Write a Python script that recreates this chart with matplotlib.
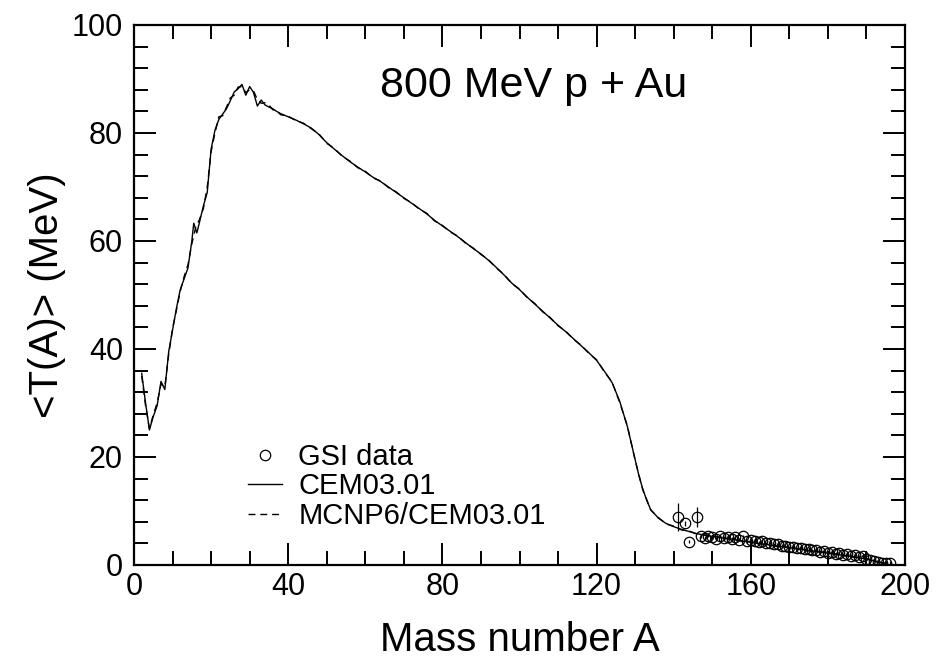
import matplotlib
matplotlib.use("Agg")
import matplotlib.pyplot as plt
from matplotlib.ticker import MultipleLocator
from matplotlib.lines import Line2D

plt.rcParams['font.family'] = ['Liberation Sans', 'DejaVu Sans']

# CEM03.01 calculation
cem_A = [2, 3, 4, 5, 6, 7, 8, 9, 10, 11, 12, 13, 14, 15, 15.5, 16.3, 17, 18, 19, 20,
         21, 22, 23, 24, 25, 26, 27, 28, 29, 30, 31, 32, 33, 34, 35, 36, 37, 38, 40,
         42, 44, 46, 48, 50, 52, 54, 56, 58, 60, 62, 64, 66, 68, 70, 72, 74, 76, 78,
         80, 82, 84, 86, 88, 90, 92, 94, 96, 98, 100, 102, 104, 106, 108, 110, 112,
         114, 116, 118, 120, 122, 124, 126, 128, 130, 131, 132, 133, 134, 136, 138,
         140, 142, 144, 146, 150, 155, 160, 165, 170, 175, 180, 185, 190, 193, 195]
cem_T = [35.5, 30.0, 25.0, 27.5, 29.5, 34.0, 32.5, 39.5, 43.5, 47.5, 51.0, 53.0, 55.0,
         60.0, 63.3, 61.5, 63.5, 66.5, 69.0, 77.0, 80.5, 82.5, 83.5, 84.5, 86.0, 87.6,
         88.2, 89.0, 87.0, 88.6, 87.5, 85.0, 86.1, 85.2, 84.8, 84.5, 84.0, 83.6, 83.0,
         82.4, 81.7, 80.9, 79.7, 78.2, 77.0, 75.8, 74.7, 73.7, 72.8, 71.8, 71.0, 70.0,
         69.0, 68.0, 67.0, 66.0, 65.0, 63.8, 62.8, 61.8, 60.8, 59.7, 58.6, 57.6, 56.4,
         55.1, 53.7, 52.2, 51.0, 49.6, 48.3, 47.0, 45.7, 44.4, 43.2, 41.9, 40.6, 39.3,
         37.9, 35.9, 33.8, 30.3, 25.6, 19.5, 16.5, 14.0, 12.0, 10.3, 8.7, 7.7, 7.1, 6.6,
         6.2, 5.8, 5.3, 4.8, 4.2, 3.7, 3.2, 2.7, 2.2, 1.7, 1.1, 0.6, 0.3]

# MCNP6/CEM03.01 calculation
mcnp_A = [2, 3, 4, 5, 6, 7, 8, 9, 10, 11, 12, 13, 14, 15, 16, 17, 18, 19, 20,
          21, 22, 23, 24, 25, 26, 27, 28, 29, 30, 31, 32, 33, 34, 35, 36, 37, 38, 40,
          42, 44, 46, 48, 50, 52, 54, 56, 58, 60, 62, 64, 66, 68, 70, 72, 74, 76, 78,
          80, 82, 84, 86, 88, 90, 92, 94, 96, 98, 100, 102, 104, 106, 108, 110, 112,
          114, 116, 118, 120, 122, 124, 126, 128, 130, 131, 132, 133, 134, 136, 138,
          140, 142, 144, 146, 150, 155, 160, 165, 170, 175, 180, 185, 190, 193, 195]
mcnp_T = [35.0, 29.5, 25.3, 27.8, 30.0, 33.5, 33.0, 39.0, 43.8, 47.2, 50.7, 53.4, 55.6,
          59.5, 62.5, 64.0, 66.0, 70.0, 76.5, 80.0, 83.0, 83.2, 84.8, 86.5, 87.0,
          88.5, 88.6, 87.5, 88.0, 87.8, 86.2, 85.5, 85.6, 85.2, 84.3, 84.2, 83.4, 83.1,
          82.3, 81.8, 80.8, 79.8, 78.1, 77.1, 75.7, 74.8, 73.6, 72.9, 71.7, 71.1, 69.9,
          69.1, 67.9, 67.1, 65.9, 65.1, 63.7, 62.9, 61.7, 60.9, 59.6, 58.7, 57.5, 56.5,
          55.0, 53.8, 52.1, 51.1, 49.5, 48.4, 46.9, 45.8, 44.3, 43.3, 41.8, 40.7, 39.2,
          38.0, 35.8, 33.9, 30.1, 25.7, 19.4, 16.6, 13.9, 12.1, 10.2, 8.8, 7.6, 7.2, 6.5,
          6.3, 5.7, 5.4, 4.7, 4.3, 3.6, 3.3, 2.6, 2.3, 1.6, 1.2, 0.5, 0.3]

# GSI data
gsi_A = [141, 143, 144, 146, 147, 148, 149, 150, 151, 152, 153, 154, 155, 156, 157,
         158, 159, 160, 161, 162, 163, 164, 165, 166, 167, 168, 169, 170, 171, 172,
         173, 174, 175, 176, 177, 178, 179, 180, 181, 182, 183, 184, 185, 186, 187,
         188, 189, 190, 191, 192, 193, 194, 195, 196]
gsi_T = [8.9, 7.7, 4.3, 8.9, 5.3, 5.0, 5.4, 5.2, 4.9, 5.3, 5.0, 5.2, 4.8, 5.1, 4.7,
         5.3, 4.4, 4.7, 4.5, 4.2, 4.4, 4.0, 4.1, 3.8, 3.9, 3.5, 3.6, 3.3, 3.4, 3.1,
         3.2, 2.9, 3.0, 2.7, 2.8, 2.5, 2.6, 2.3, 2.4, 2.1, 2.2, 1.9, 2.0, 1.7, 1.8,
         1.5, 1.6, 1.2, 1.0, 0.8, 0.6, 0.3, 0.4, 0.4]
gsi_err = [2.6, 0.4, 0.3, 1.8, 0.3, 0.3, 0.3, 0.3, 0.3, 0.3, 0.3, 0.3, 0.3, 0.3, 0.3,
           0.3, 0.3, 0.3, 0.3, 0.3, 0.3, 0.3, 0.3, 0.3, 0.3, 0.3, 0.3, 0.3, 0.3, 0.3,
           0.3, 0.3, 0.3, 0.3, 0.3, 0.3, 0.3, 0.3, 0.3, 0.3, 0.3, 0.3, 0.3, 0.3, 0.3,
           0.3, 0.3, 0.3, 0.3, 0.3, 0.3, 0.3, 0.3, 0.3]

fig = plt.figure(figsize=(9.4, 6.68), dpi=100)
ax = fig.add_axes([134/940, 1-565/668, (905-134)/940, (565-25)/668])

ax.plot(cem_A, cem_T, color='black', lw=1.0)
ax.plot(mcnp_A, mcnp_T, color='black', lw=1.0, ls=(0, (5, 3.5)))
ax.errorbar(gsi_A, gsi_T, yerr=gsi_err, fmt='o', mfc='none', mec='black',
            ms=7.5, mew=0.9, ecolor='black', elinewidth=0.9, capsize=0, zorder=3)

ax.set_xlim(0, 200)
ax.set_ylim(0, 100)
ax.xaxis.set_major_locator(MultipleLocator(40))
ax.xaxis.set_minor_locator(MultipleLocator(10))
ax.yaxis.set_major_locator(MultipleLocator(20))
ax.yaxis.set_minor_locator(MultipleLocator(4))
ax.tick_params(which='both', direction='in', top=True, right=True, width=1.4)
ax.tick_params(which='major', length=16)
ax.tick_params(which='minor', length=10)
ax.tick_params(axis='x', which='major', labelsize=22, pad=5)
ax.tick_params(axis='y', which='major', labelsize=22, pad=8)
for s in ax.spines.values():
    s.set_linewidth(1.6)

ax.set_xlabel('Mass number A', fontsize=29, labelpad=14)
ax.set_ylabel('<T(A)> (MeV)', fontsize=29, labelpad=4)

ax.text(63.8, 86.7, '800 MeV p + Au', fontsize=31, ha='left', va='baseline')

h_gsi = Line2D([], [], marker='o', ls='none', mfc='none', mec='black', ms=7.5, mew=0.9)
h_cem = Line2D([], [], color='black', lw=1.0)
h_mcnp = Line2D([], [], color='black', lw=1.0, ls=(0, (5, 3.5)))
ax.legend(handles=[h_gsi, h_cem, h_mcnp],
          labels=['GSI data', 'CEM03.01', 'MCNP6/CEM03.01'],
          loc='upper left', bbox_to_anchor=(0.148, 0.226), frameon=False,
          fontsize=21, handlelength=1.17, handletextpad=0.55, labelspacing=0.05,
          borderaxespad=0, borderpad=0)

fig.savefig('out.png', dpi=100)
